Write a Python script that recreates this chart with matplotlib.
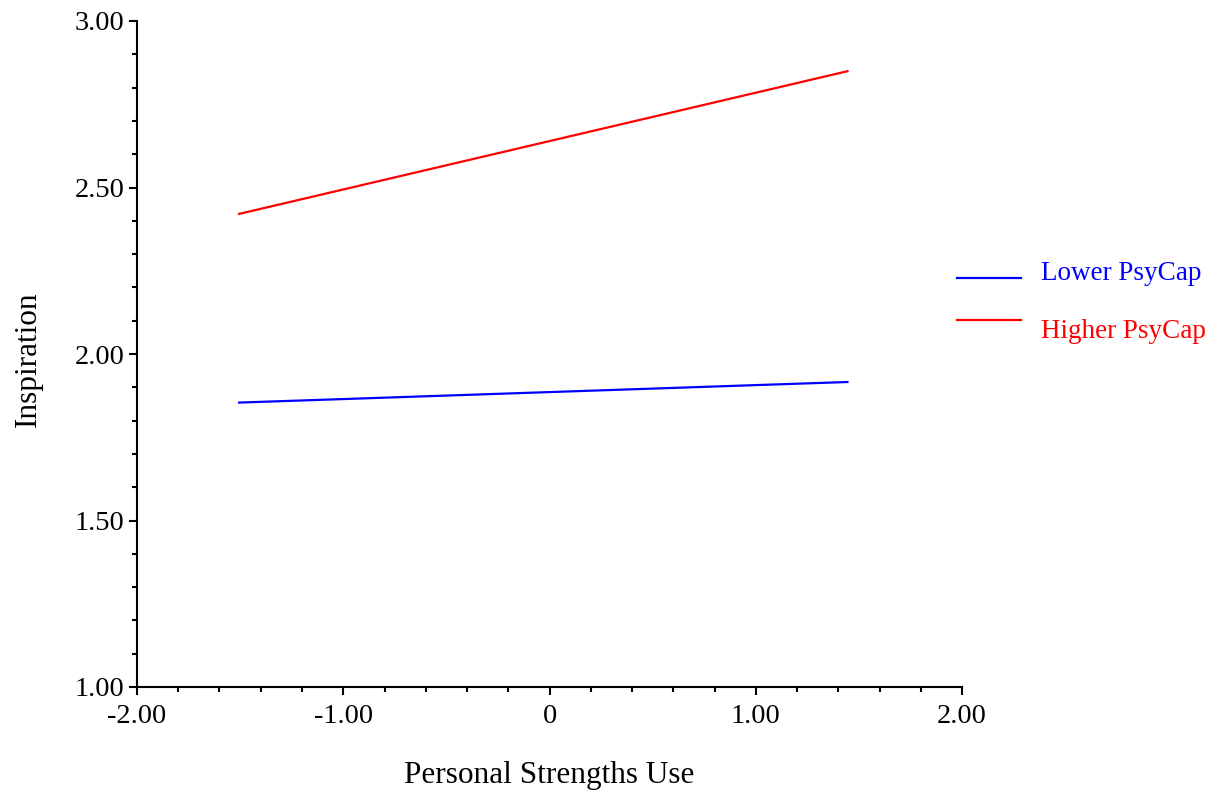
import matplotlib
matplotlib.use("Agg")
import matplotlib.pyplot as plt
from matplotlib.ticker import MultipleLocator, FixedLocator, FixedFormatter
from matplotlib.lines import Line2D

plt.rcParams['font.family'] = ['Liberation Serif', 'DejaVu Serif']

x_vals = [-1.51, 1.45]
lower_psycap = [1.854, 1.916]
higher_psycap = [2.42, 2.85]
series_labels = ["Lower PsyCap", "Higher PsyCap"]
series_colors = ["#0000ff", "#ff0000"]
x_ticks = [-2.0, -1.0, 0.0, 1.0, 2.0]
x_ticklabels = ["-2.00", "-1.00", "0", "1.00", "2.00"]
y_ticks = [1.0, 1.5, 2.0, 2.5, 3.0]
y_ticklabels = ["1.00", "1.50", "2.00", "2.50", "3.00"]

fig = plt.figure(figsize=(12.26, 7.97), dpi=100)
ax = fig.add_axes([137/1226, 1-687/797, (962-137)/1226, (687-21)/797])

ax.plot(x_vals, lower_psycap, color=series_colors[0], lw=1.6, solid_capstyle='butt')
ax.plot(x_vals, higher_psycap, color=series_colors[1], lw=1.6, solid_capstyle='butt')

ax.set_xlim(-2, 2)
ax.set_ylim(1, 3)
for s in ['top', 'right']:
    ax.spines[s].set_visible(False)
for s in ['left', 'bottom']:
    ax.spines[s].set_linewidth(1.5)

ax.xaxis.set_major_locator(FixedLocator(x_ticks))
ax.xaxis.set_major_formatter(FixedFormatter(x_ticklabels))
ax.yaxis.set_major_locator(FixedLocator(y_ticks))
ax.yaxis.set_major_formatter(FixedFormatter(y_ticklabels))
ax.xaxis.set_minor_locator(MultipleLocator(0.2))
ax.yaxis.set_minor_locator(MultipleLocator(0.1))
ax.tick_params(which='major', length=6, width=1.5, labelsize=20.5, pad=3)
ax.tick_params(which='minor', length=3.5, width=1.5)
ax.tick_params(axis='x', which='major', pad=6)

ax.set_xlabel("Personal Strengths Use", fontsize=22.5)
ax.xaxis.set_label_coords(0.5, -0.135)
ax.set_ylabel("Inspiration", fontsize=22.5)
ax.yaxis.set_label_coords(-0.132, 0.5)
ax.xaxis.label.set_va('center')
ax.yaxis.label.set_va('center')
ax.xaxis.set_label_coords(0.5, -(776-687)/666)
ax.yaxis.set_label_coords(-(137-28)/825, (687-359)/666)

# legend drawn manually
W, H = 1226, 797
for i, (lab, col) in enumerate(zip(series_labels, series_colors)):
    ly = [278, 320][i]
    ty = [274, 332][i]
    fig.add_artist(Line2D([957/W, 1021/W], [1-ly/H, 1-ly/H], color=col, lw=1.6,
                          transform=fig.transFigure))
    fig.text(1041/W, 1-ty/H, lab, color=col, fontsize=19.5, va='center', ha='left')

fig.savefig("out.png", dpi=100)
